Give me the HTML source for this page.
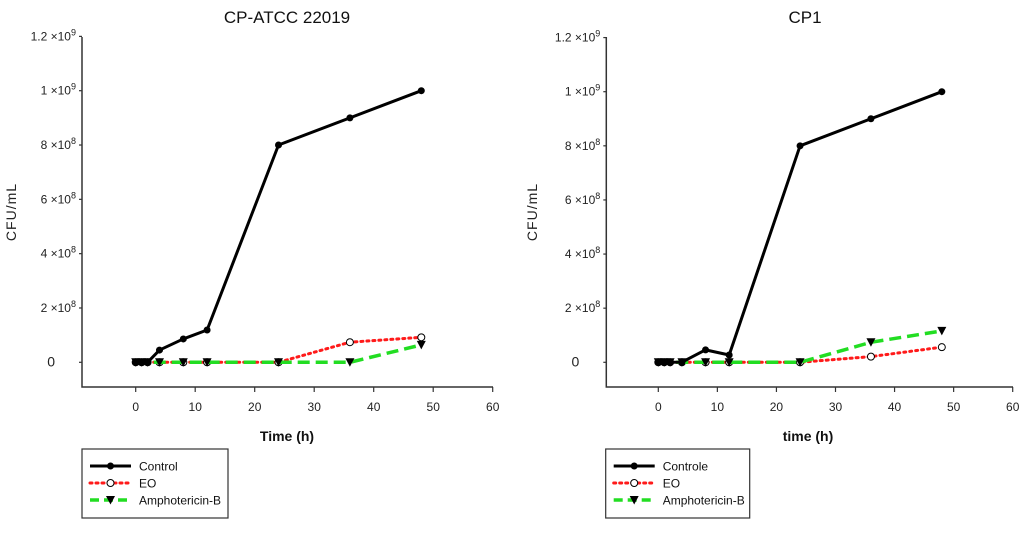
<!DOCTYPE html>
<html><head><meta charset="utf-8">
<style>
html,body{margin:0;padding:0;background:#fff;}
svg{display:block;font-family:"Liberation Sans",Arial,sans-serif;}
</style></head>
<body>
<svg id="chart" width="1024" height="535" viewBox="0 0 1024 535" xmlns="http://www.w3.org/2000/svg"></svg>
<script>
const times = [0, 1, 2, 4, 8, 12, 24, 36, 48];
const xTicks = [0, 10, 20, 30, 40, 50, 60];
const yTicks = [0, 2e8, 4e8, 6e8, 8e8, 1e9, 1.2e9];
const yTickMant = ["0", "2", "4", "6", "8", "1", "1.2"];
const yTickExp = ["", "8", "8", "8", "8", "9", "9"];
const leftControl = [0, 0, 0, 0.45e8, 0.86e8, 1.19e8, 8.0e8, 9.0e8, 10.0e8];
const leftEO = [0, 0, 0, 0, 0, 0, 0, 0.74e8, 0.92e8];
const leftAmpho = [0, 0, 0, 0, 0, 0, 0, 0, 0.64e8];
const rightControl = [0, 0, 0, 0.005e8, 0.46e8, 0.27e8, 8.0e8, 9.0e8, 10.0e8];
const rightEO = [0, 0, 0, 0, 0, 0, 0, 0.21e8, 0.56e8];
const rightAmpho = [0, 0, 0, 0, 0, 0, 0, 0.74e8, 1.16e8];

const NS = "http://www.w3.org/2000/svg";
const svg = document.getElementById("chart");
function mk(tag, attrs, parent, text) {
  const e = document.createElementNS(NS, tag);
  for (const k in attrs) e.setAttribute(k, attrs[k]);
  if (text !== undefined) e.textContent = text;
  (parent || svg).appendChild(e);
  return e;
}

function panel(cfg) {
  const g = mk("g", {});
  
  
  const xs = v => cfg.x0 + (cfg.x60 - cfg.x0) * v / 60;
  const ys = v => cfg.y0 - (cfg.y0 - cfg.y1e9) * v / 1e9;
  const t = mk("text", {x: cfg.titleX, y: 23, "text-anchor": "middle", "font-size": 17, fill: "#111"}, g, cfg.title);
  
  
  // axes
  const ax = mk("path", {d: `M${cfg.ax} 37 V387 H${cfg.axEnd}`, stroke: "#333", "stroke-width": 1.5, fill: "none"}, g);
  
  
  yTicks.forEach((v, i) => {
    const y = ys(v);
    mk("line", {x1: cfg.ax - 3, x2: cfg.ax, y1: y, y2: y, stroke: "#333", "stroke-width": 1.2}, g);
    const lbl = mk("text", {x: cfg.ax - 6, y: y + 4, "text-anchor": "end", "font-size": 12, fill: "#222"}, g);
    
    
    if (yTickExp[i]) {
      mk("tspan", {}, lbl, yTickMant[i] + " \u00d710");
      mk("tspan", {dy: -5, "font-size": 9}, lbl, yTickExp[i]);
    } else {
      lbl.setAttribute("font-size", 14);
      lbl.setAttribute("x", cfg.ax - 27);
      lbl.textContent = yTickMant[i];
    }
  });
  xTicks.forEach(v => {
    const x = xs(v);
    mk("line", {x1: x, x2: x, y1: 387, y2: 392, stroke: "#333", "stroke-width": 1.2}, g);
    const lbl = mk("text", {x: x, y: 411, "text-anchor": "middle", "font-size": 12, fill: "#222"}, g, String(v));
    
    
  });
  const xt = mk("text", {x: cfg.xTitleX, y: 441, "text-anchor": "middle", "font-size": 14, "font-weight": "bold", fill: "#111"}, g, cfg.xTitle);
  
  
  const yt = mk("text", {x: 0, y: 0, "text-anchor": "middle", "font-size": 14, fill: "#222", "letter-spacing": 1, transform: `translate(${cfg.yTitleX},212) rotate(-90)`}, g, "CFU/mL");
  
  

  const series = [
    {vals: cfg.eo, color: "#ff1a1a", dash: "2 4", w: 3, cap: "round", marker: "open", name: "series-eo"},
    {vals: cfg.ampho, color: "#22dd22", dash: "12 6", w: 3.5, cap: "butt", marker: "tri", name: "series-amphotericin-b"},
    {vals: cfg.control, color: "#000", dash: "", w: 3, cap: "butt", marker: "dot", name: "series-control"}
  ];
  series.forEach(s => {
    const sg = mk("g", {}, g);
    
    
    const pts = s.vals.map((v, i) => xs(times[i]) + "," + ys(v)).join(" ");
    mk("polyline", {points: pts, fill: "none", stroke: s.color, "stroke-width": s.w, "stroke-dasharray": s.dash, "stroke-linecap": s.cap, "stroke-linejoin": "round"}, sg);
    s.vals.forEach((v, i) => {
      const x = xs(times[i]), y = ys(v);
      let m;
      if (s.marker === "dot") m = mk("circle", {cx: x, cy: y, r: 3.5, fill: "#000"}, sg);
      else if (s.marker === "open") m = mk("circle", {cx: x, cy: y, r: 3.5, fill: "#fff", stroke: "#000", "stroke-width": 1}, sg);
      else m = mk("path", {d: `M${x-4.5} ${y-4} H${x+4.5} L${x} ${y+4.5} Z`, fill: "#000"}, sg);
      
      
    });
  });

  // legend
  const lg = mk("g", {}, g);
  
  
  mk("rect", {x: cfg.lx, y: 449, width: cfg.lw, height: 69, fill: "#fff", stroke: "#333", "stroke-width": 1.2}, lg);
  const entries = [
    {label: cfg.ctrlLabel, color: "#000", dash: "", w: 3, marker: "dot"},
    {label: "EO", color: "#ff1a1a", dash: "2 4", w: 3, marker: "open"},
    {label: "Amphotericin-B", color: "#22dd22", dash: "9 5", w: 3.5, marker: "tri"}
  ];
  entries.forEach((e, i) => {
    const y = 466 + i * 17;
    const eg = mk("g", {}, lg);
    
    
    const x1 = cfg.lx + 8, x2 = cfg.lx + 49, xm = (x1 + x2) / 2;
    mk("line", {x1: x1, x2: x2, y1: y, y2: y, stroke: e.color, "stroke-width": e.w, "stroke-dasharray": e.dash, "stroke-linecap": e.marker === "open" ? "round" : "butt"}, eg);
    if (e.marker === "dot") mk("circle", {cx: xm, cy: y, r: 3.5, fill: "#000"}, eg);
    else if (e.marker === "open") mk("circle", {cx: xm, cy: y, r: 3.5, fill: "#fff", stroke: "#000", "stroke-width": 1}, eg);
    else mk("path", {d: `M${xm-4.5} ${y-4} H${xm+4.5} L${xm} ${y+4.5} Z`, fill: "#000"}, eg);
    mk("text", {x: cfg.lx + 57, y: y + 4.5, "font-size": 12, fill: "#111"}, eg, e.label);
  });
}

panel({name: "panel-cp-atcc-22019", title: "CP-ATCC 22019", titleX: 287, ax: 82, axEnd: 493, x0: 135.7, x60: 492.7, y0: 362.3, y1e9: 90.7,
  control: leftControl, eo: leftEO, ampho: leftAmpho, xTitle: "Time (h)", xTitleX: 287, yTitleX: 16, lx: 82, lw: 146, ctrlLabel: "Control"});
panel({name: "panel-cp1", title: "CP1", titleX: 805, ax: 606.3, axEnd: 1013, x0: 658.3, x60: 1012.7, y0: 362.3, y1e9: 91.7,
  control: rightControl, eo: rightEO, ampho: rightAmpho, xTitle: "time (h)", xTitleX: 808, yTitleX: 537, lx: 605.7, lw: 144, ctrlLabel: "Controle"});
</script>
</body></html>
